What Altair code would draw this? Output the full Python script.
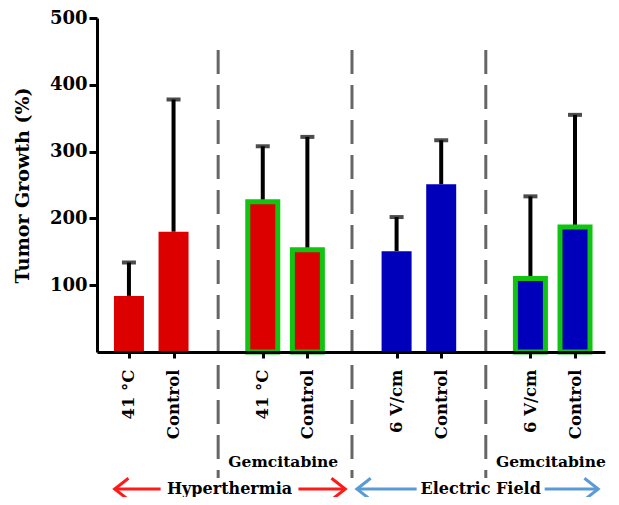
import altair as alt
import pandas as pd

# ---------------- data ----------------
bar_labels = ["41 °C", "Control", "41 °C", "Control", "6 V/cm", "Control", "6 V/cm", "Control"]
bar_values = [84, 180, 225, 153, 151, 251, 110, 187]
bar_errors = [50, 198, 83, 169, 51, 66, 123, 168]
bar_group = [0, 0, 1, 1, 2, 2, 3, 3]
group_drug = ["", "Gemcitabine", "", "Gemcitabine"]
group_modality = ["Hyperthermia", "Hyperthermia", "Electric Field", "Electric Field"]
modality_names = ["Hyperthermia", "Electric Field"]
y_ticks = [100, 200, 300, 400, 500]

# ---------------- styles ----------------
FONT = "DejaVu Serif"
modality_fill = {"Hyperthermia": "#dd0000", "Electric Field": "#0000bb"}
modality_arrow = {"Hyperthermia": "#ff1a1a", "Electric Field": "#5b9bd5"}
GREEN = "#11c411"

# slot layout: two bars per group, one empty slot between groups
slots = [g * 3 + (i % 2) for i, g in enumerate(bar_group)]
bars = pd.DataFrame({
    "slot": slots,
    "label": bar_labels,
    "value": bar_values,
    "top": [v + e for v, e in zip(bar_values, bar_errors)],
    "fill": [modality_fill[group_modality[g]] for g in bar_group],
    "stroke": [GREEN if group_drug[g] else modality_fill[group_modality[g]] for g in bar_group],
    "sw": [5 if group_drug[g] else 0 for g in bar_group],
})

n_slots = 3 * len(group_drug) - 1
label_arr = [""] * n_slots
for s, l in zip(slots, bar_labels):
    label_arr[s] = l
label_expr = "[" + ",".join("'" + l + "'" for l in label_arr) + "][datum.value]"

xscale = alt.Scale(domain=[-0.604, 10.56], nice=False, zero=False)
yscale = alt.Scale(domain=[0, 500], nice=False)

x_axis = alt.Axis(values=slots, labelExpr=label_expr, title=None, grid=False,
                  labelAngle=270, labelAlign="right", labelBaseline="middle",
                  labelFont=FONT, labelFontWeight="bold", labelFontSize=16.5, labelColor="black",
                  labelPadding=11, tickSize=6, tickWidth=3, tickColor="black",
                  domainColor="black", domainWidth=3, labelOverlap=False, labelFlush=False, zindex=1)
y_axis = alt.Axis(values=y_ticks, title="Tumor Growth (%)", grid=False,
                  labelFont=FONT, labelFontWeight="bold", labelFontSize=18, labelColor="black",
                  labelPadding=2, tickSize=8, tickWidth=3, tickColor="black",
                  domainColor="black", domainWidth=3,
                  titleFont=FONT, titleFontWeight="bold", titleFontSize=19, titleColor="black",
                  titlePadding=17, zindex=1)

base = alt.Chart(bars)

sep = pd.DataFrame({"slot": [g * 3 - 1 for g in range(1, len(group_drug))]})
separators = alt.Chart(sep).mark_rule(color="#666666", strokeWidth=3, strokeDash=[24, 11]).encode(
    x=alt.X("slot:Q", scale=xscale, axis=x_axis),
    y=alt.value(32), y2=alt.value(460))

err = base.mark_rule(color="black", strokeWidth=4).encode(
    x=alt.X("slot:Q", scale=xscale, axis=x_axis),
    y=alt.Y("value:Q", scale=yscale, axis=y_axis), y2="top:Q")
caps = base.mark_tick(color="black", orient="horizontal", size=14, thickness=4).encode(
    x=alt.X("slot:Q", scale=xscale), y=alt.Y("top:Q", scale=yscale))
barl = base.mark_bar(size=30, orient="vertical").encode(
    x=alt.X("slot:Q", scale=xscale),
    y=alt.Y("value:Q", scale=yscale), y2=alt.datum(0),
    fill=alt.Fill("fill:N", scale=None),
    stroke=alt.Stroke("stroke:N", scale=None),
    strokeWidth=alt.StrokeWidth("sw:Q", scale=None))

# drug labels under groups
drug_df = pd.DataFrame({"slot": [g * 3 + 0.46 for g in range(len(group_drug))], "text": group_drug})
drug = alt.Chart(drug_df).mark_text(font=FONT, fontWeight="bold", fontSize=15.5, color="black",
                                    baseline="middle").encode(
    x=alt.X("slot:Q", scale=xscale), y=alt.value(444), text="text:N")

# modality arrows
arrow_tips = {"Hyperthermia": (-0.32, 4.85), "Electric Field": (5.11, 10.52)}
text_gap = {"Hyperthermia": (0.71, 3.80), "Electric Field": (6.45, 9.32)}
seg_rows, head_rows, txt_rows = [], [], []
for m in modality_names:
    a, b = arrow_tips[m]
    ta, tb = text_gap[m]
    seg_rows += [{"x": a, "x2": ta, "c": modality_arrow[m]}, {"x": tb, "x2": b, "c": modality_arrow[m]}]
    head_rows += [{"x": a, "c": modality_arrow[m], "dir": "L"}, {"x": b, "c": modality_arrow[m], "dir": "R"}]
    txt_rows.append({"x": (ta + tb) / 2, "text": m})
ARROW_Y = 471
segs = alt.Chart(pd.DataFrame(seg_rows)).mark_rule(strokeWidth=3).encode(
    x=alt.X("x:Q", scale=xscale), x2="x2:Q", y=alt.value(ARROW_Y), color=alt.Color("c:N", scale=None))
heads_df = pd.DataFrame(head_rows)
headL = alt.Chart(heads_df).transform_filter("datum.dir == 'L'").mark_point(
    shape="M1.15,-0.9L0,0L1.15,0.9", filled=False, strokeWidth=3, size=576, opacity=1).encode(
    x=alt.X("x:Q", scale=xscale), y=alt.value(ARROW_Y), stroke=alt.Stroke("c:N", scale=None))
headR = alt.Chart(heads_df).transform_filter("datum.dir == 'R'").mark_point(
    shape="M-1.15,-0.9L0,0L-1.15,0.9", filled=False, strokeWidth=3, size=576, opacity=1).encode(
    x=alt.X("x:Q", scale=xscale), y=alt.value(ARROW_Y), stroke=alt.Stroke("c:N", scale=None))
mtext = alt.Chart(pd.DataFrame(txt_rows)).mark_text(font=FONT, fontWeight="bold", fontSize=16,
                                                    color="black", baseline="alphabetic").encode(
    x=alt.X("x:Q", scale=xscale), y=alt.value(ARROW_Y + 5), text="text:N")

chart = alt.layer(separators, err, caps, barl, drug, segs, headL, headR, mtext).properties(
    width=508, height=334,
    autosize=alt.AutoSizeParams(type="none"),
    padding={"left": 89, "top": 10, "right": 6, "bottom": 145},
).configure_view(stroke=None)

chart.save("out.html", embed_options={"renderer": "svg", "actions": False})
